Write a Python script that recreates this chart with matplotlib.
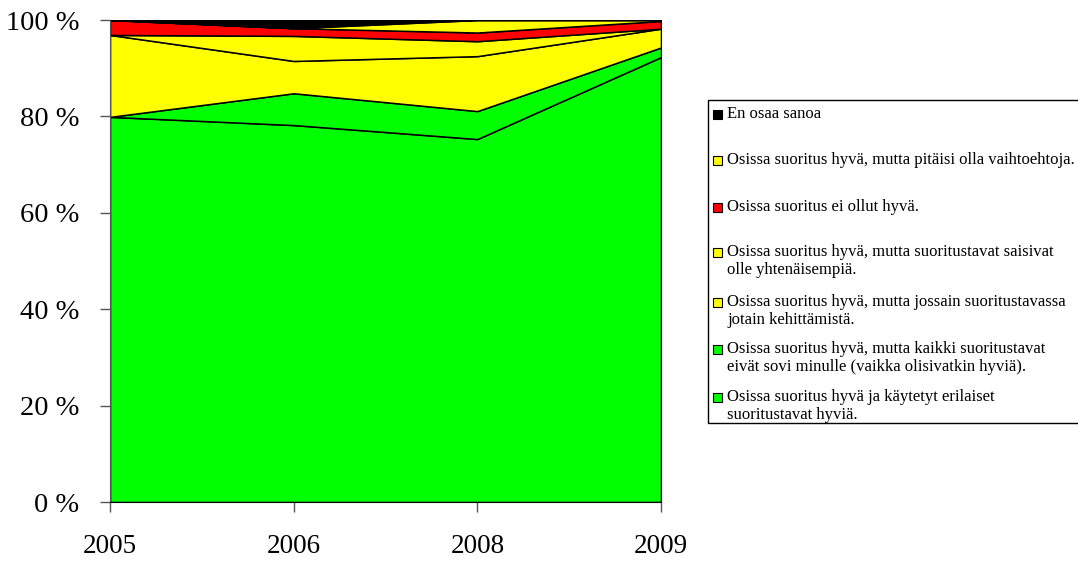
import matplotlib
matplotlib.use('Agg')
import matplotlib.pyplot as plt
from matplotlib.patches import Rectangle

plt.rcParams['font.family'] = ['Liberation Serif', 'DejaVu Serif']

years = ['2005', '2006', '2008', '2009']
y_ticks = [0, 20, 40, 60, 80, 100]
y_labels = ['0 %', '20 %', '40 %', '60 %', '80 %', '100 %']

# shares in percent, bottom of the stack first
kaytetyt = [79.9, 78.2, 75.3, 92.3]
eivat_sovi = [0.0, 6.6, 5.8, 2.0]
kehittamista = [17.0, 6.7, 11.4, 3.9]
yhtenaisempia = [0.0, 5.2, 3.1, 0.0]
ei_hyva = [3.1, 1.6, 1.8, 1.6]
vaihtoehtoja = [0.0, 0.0, 2.6, 0.2]
en_osaa = [0.0, 1.7, 0.0, 0.0]

labels = ['Osissa suoritus hyvä ja käytetyt erilaiset\nsuoritustavat hyviä.',
          'Osissa suoritus hyvä, mutta kaikki suoritustavat\neivät sovi minulle (vaikka olisivatkin hyviä).',
          'Osissa suoritus hyvä, mutta jossain suoritustavassa\njotain kehittämistä.',
          'Osissa suoritus hyvä, mutta suoritustavat saisivat\nolle yhtenäisempiä.',
          'Osissa suoritus ei ollut hyvä.',
          'Osissa suoritus hyvä, mutta pitäisi olla vaihtoehtoja.',
          'En osaa sanoa']
colors = ['#00ff00', '#00ff00', '#ffff00', '#ffff00', '#ff0000', '#ffff00', '#000000']

W, H = 1078, 562
fig = plt.figure(figsize=(W / 100, H / 100), dpi=100)
ax = fig.add_axes([110 / W, 1 - 502 / H, (661 - 110) / W, (502 - 20) / H])

x = list(range(len(years)))
ax.stackplot(x, kaytetyt, eivat_sovi, kehittamista, yhtenaisempia, ei_hyva,
             vaihtoehtoja, en_osaa, colors=colors, edgecolor='black', linewidth=1.1)

ax.set_xlim(0, 3)
ax.set_ylim(0, 100)
ax.set_xticks(x)
ax.set_xticklabels(years, fontsize=19.5)
ax.set_yticks(y_ticks)
ax.set_yticklabels(y_labels, fontsize=20.5)
ax.tick_params(axis='both', direction='out', length=7, width=1, color='#555555')
ax.tick_params(axis='y', pad=15)
ax.tick_params(axis='x', pad=16)
for s in ['top', 'right']:
    ax.spines[s].set_visible(False)
ax.spines['left'].set_color('#555555')
ax.spines['bottom'].set_color('black')

# legend drawn by hand to keep Excel's spacing
def fx(px):
    return px / W

def fy(py):
    return 1 - py / H

fig.add_artist(Rectangle((fx(708), fy(423)), fx(1100) - fx(708), fy(100) - fy(423),
                         transform=fig.transFigure, facecolor='white', edgecolor='black', lw=1))
centers = [406, 358, 311, 261, 207, 160, 114]
for lab, col, cy in zip(labels, colors, centers):
    first = cy if '\n' not in lab else cy - 8.5
    fig.add_artist(Rectangle((fx(713), fy(first + 4.5)), fx(9), 9 / H,
                             transform=fig.transFigure, facecolor=col, edgecolor='black', lw=0.8))
    fig.text(fx(727), fy(cy), lab, fontsize=12, va='center', ha='left', linespacing=1.1)

fig.savefig('out.png', dpi=100)
